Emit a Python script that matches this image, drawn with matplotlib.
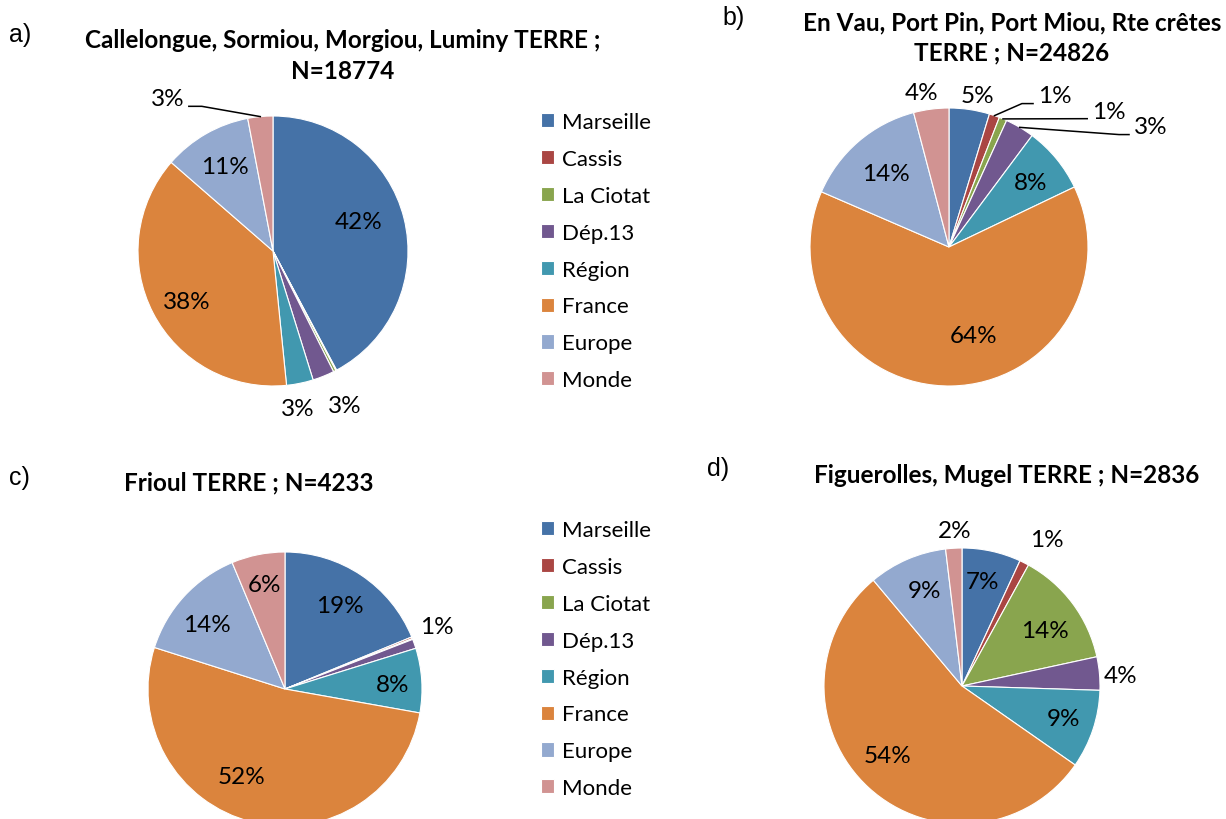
import numpy as np
import matplotlib
matplotlib.use("Agg")
import matplotlib.pyplot as plt

categories = ['Marseille', 'Cassis', 'La Ciotat', 'Dép.13', 'Région', 'France', 'Europe', 'Monde']
colors = ['#4572A7', '#AA4643', '#89A54E', '#71588F', '#4198AF', '#DB843D', '#93A9CF', '#D19392']

# shares in percent
vals_a = [42.2, 0.1, 0.3, 2.6, 3.2, 38.0, 10.6, 3.0]
vals_b = [4.7, 1.2, 0.9, 3.4, 7.7, 63.6, 14.4, 4.1]
vals_c = [18.8, 0.2, 0.1, 1.1, 7.6, 52.1, 13.8, 6.3]
vals_d = [6.9, 1.1, 13.6, 3.9, 9.2, 54.2, 9.2, 1.9]

title_a = 'Callelongue, Sormiou, Morgiou, Luminy TERRE ;\nN=18774'
title_b = 'En Vau, Port Pin, Port Miou, Rte crêtes\nTERRE ; N=24826'
title_c = 'Frioul TERRE ; N=4233'
title_d = 'Figuerolles, Mugel TERRE ; N=2836'

# label placement: (distance from centre, angle shift from slice middle, kind)
# kind: 'in'/'out' plain text, 'L' leader to the left-side text, 'R' leader to right-side text
lab_a = [(0.67, 5, 'in'), None, None, (1.26, 3, 'out'), (1.18, -2.5, 'out'),
         (0.74, 3, 'in'), (0.72, 0, 'in'), (1.305, 24.9, 'R')]
lab_b = [(1.11, -2, 'out'), (1.261, -11.4, 'L'), (1.42, -23.6, 'L'), (1.586, -26.4, 'L'),
         (0.75, -1, 'in'), (0.665, 14.6, 'in'), (0.70, 0, 'in'), (1.13, 2.8, 'out')]
lab_c = [(0.73, 0.3, 'in'), None, None, (1.2, 3.2, 'out'), (0.79, -1, 'in'),
         (0.71, -12.4, 'in'), (0.74, 2.7, 'in'), (0.78, -0.5, 'in')]
lab_d = [(0.77, 1.5, 'in'), (1.23, -3.3, 'out'), (0.72, -2.8, 'in'), (1.154, -1.6, 'out'),
         (0.77, 0.3, 'in'), (0.743, -4.5, 'in'), (0.74, -2.1, 'in'), (1.131, -0.8, 'out')]
elbow = {('a', 7): 0.096, ('b', 1): 0.08, ('b', 2): 0.01, ('b', 3): 0.072}

W, H = 1226, 820
fig = plt.figure(figsize=(W / 100, H / 100), dpi=100)
fig.patch.set_facecolor('white')
FONT = 'Lato'
LAB_FS = 17.5
TITLE_FS = 17.5


def draw_pie(key, vals, labs, cx, cy, r):
    ax = fig.add_axes([(cx - r) / W, (H - cy - r) / H, 2 * r / W, 2 * r / H])
    wedges, _ = ax.pie(vals, colors=colors, startangle=90, counterclock=False, radius=1,
                       wedgeprops=dict(edgecolor='white', linewidth=0.8))
    ax.set_xlim(-1, 1)
    ax.set_ylim(-1, 1)
    ax.set_aspect('equal')
    ax.axis('off')
    for i, (w, spec) in enumerate(zip(wedges, labs)):
        if spec is None:
            continue
        dist, dth, kind = spec
        mid = np.deg2rad((w.theta1 + w.theta2) / 2)
        ang = mid + np.deg2rad(dth)
        x, y = dist * np.cos(ang), dist * np.sin(ang)
        txt = '%d%%' % round(vals[i])
        if kind in ('in', 'out'):
            ax.text(x, y, txt, ha='center', va='center', fontsize=LAB_FS, family=FONT,
                    clip_on=False)
        else:
            ha = 'left' if kind == 'L' else 'right'
            ax.text(x, y, txt, ha=ha, va='center', fontsize=LAB_FS, family=FONT, clip_on=False)
            sgn = -1 if kind == 'L' else 1
            ex, ey = x + sgn * 0.035, y - 0.055
            bx = ex + sgn * elbow[(key, i)]
            wx, wy = np.cos(mid), np.sin(mid)
            ax.plot([ex, bx, wx], [ey, ey, wy], color='black', lw=1.1, clip_on=False)
    return wedges


wa = draw_pie('a', vals_a, lab_a, 273, 252, 135)
draw_pie('b', vals_b, lab_b, 949, 248, 139)
draw_pie('c', vals_c, lab_c, 285, 690, 137)
draw_pie('d', vals_d, lab_d, 962, 687, 138)

# titles and panel letters
fig.text(343 / W, 1 - 56 / H, title_a, ha='center', va='center', fontsize=TITLE_FS,
         fontweight='bold', family=FONT, linespacing=1.42)
fig.text(1012 / W, 1 - 38 / H, title_b, ha='center', va='center', fontsize=TITLE_FS,
         fontweight='bold', family=FONT, linespacing=1.38)
fig.text(249 / W, 1 - 483 / H, title_c, ha='center', va='center', fontsize=TITLE_FS,
         fontweight='bold', family=FONT)
fig.text(1007 / W, 1 - 476 / H, title_d, ha='center', va='center', fontsize=TITLE_FS,
         fontweight='bold', family=FONT)
for lab, x, y in [('a)', 9, 35), ('b)', 722, 18), ('c)', 9, 478), ('d)', 707, 469)]:
    fig.text(x / W, 1 - y / H, lab, ha='left', va='center', fontsize=18,
             family='Liberation Sans')

# legends (next to a and c)
for ytop in (113, 521):
    fig.legend(wa, categories, loc='upper left', bbox_to_anchor=(541 / W, 1 - ytop / H),
               frameon=False, prop=dict(family=FONT, size=16), handlelength=0.6,
               handleheight=0.6, handletextpad=0.36, labelspacing=0.76, borderpad=0,
               borderaxespad=0)

fig.savefig('out.png', dpi=100, facecolor='white')
